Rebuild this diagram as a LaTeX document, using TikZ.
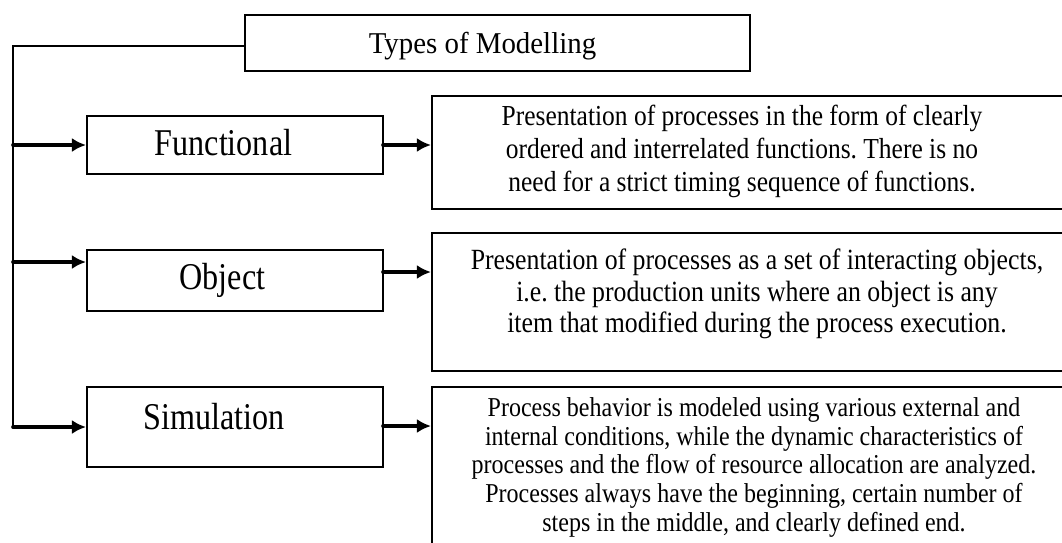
\documentclass[tikz,border=0pt]{standalone}
\usepackage{fontspec}
\setmainfont{Liberation Serif}
\newfontfamily\titlefont[FakeStretch=0.955]{Liberation Serif}
\newfontfamily\labelfont[FakeStretch=0.85]{Liberation Serif}
\newfontfamily\descfont[FakeStretch=0.88]{Liberation Serif}
\usetikzlibrary{arrows.meta}
\frenchspacing
\begin{document}
\begin{tikzpicture}
[x=0.025cm, y=-0.025cm,
 modbox/.style={draw, line width=1.4pt, inner sep=0pt},
 boxtext/.style={inner sep=0pt, anchor=base, font=\labelfont\fontsize{26.9}{30}\selectfont},
 desctext/.style={inner sep=0pt, anchor=north, align=center},
 bus/.style={line width=1.6pt},
 arr/.style={line width=2.6pt, line cap=round, -{Latex[length=3.5mm,width=3.5mm]}}]
\useasboundingbox (0,0) rectangle (1062,542);
\clip (0,0) rectangle (1062,542);

% boxes
\node (title) at (497.5,43) [modbox, minimum width=12.625cm, minimum height=1.4cm] {};
\node (func) at (235,145) [modbox, minimum width=7.4cm, minimum height=1.45cm] {};
\node (obj) at (235,280.5) [modbox, minimum width=7.4cm, minimum height=1.525cm] {};
\node (sim) at (235,427) [modbox, minimum width=7.4cm, minimum height=2cm] {};
\node (desc1) at (753.5,152.5) [modbox, minimum width=16.075cm, minimum height=2.825cm] {};
\node (desc2) at (753.5,302) [modbox, minimum width=16.075cm, minimum height=3.45cm] {};
\node (desc3) at (753.5,473.5) [modbox, minimum width=16.075cm, minimum height=4.325cm] {};

% texts
\node (titletxt) at (482.5,53) [inner sep=0pt, anchor=base, font=\titlefont\fontsize{21.5}{24}\selectfont] {Types of Modelling};
\node (functxt) at (223.5,155) [boxtext] {Functional};
\node (objtxt) at (222.5,289) [boxtext] {Object};
\node (simtxt) at (214,429) [boxtext] {Simulation};
\node (desc1txt) at (742,105.2) [desctext, font=\descfont\fontsize{20.6}{23.5}\selectfont]
  {Presentation of processes in the form of clearly\\
   ordered and interrelated functions. There is no\\
   need for a strict timing sequence of functions.};
\node (desc2txt) at (757,249) [desctext, font=\descfont\fontsize{20.85}{22.4}\selectfont]
  {Presentation of processes as a set of interacting objects,\\
   i.e. the production units where an object is any\\
   item that modified during the process execution.};
\node (desc3txt) at (754,397.4) [desctext, font=\descfont\fontsize{19.4}{20.4}\selectfont]
  {Process behavior is modeled using various external and\\
   internal conditions, while the dynamic characteristics of\\
   processes and the flow of resource allocation are analyzed.\\
   Processes always have the beginning, certain number of\\
   steps in the middle, and clearly defined end.};

% connectors
\coordinate (top) at (13,46);
\coordinate (b1) at (13,145);
\coordinate (b2) at (13,262);
\coordinate (b3) at (13,427);
\coordinate (r1) at (383,145);
\coordinate (r2) at (383,272);
\coordinate (r3) at (383,426);
\draw [bus] (title.west |- top) -- (top) -- (b3);

\foreach \from/\to in {b1/func, b2/obj, b3/sim, r1/desc1, r2/desc2, r3/desc3}
	\draw [arr] (\from) -- (\from -| \to.west);

\end{tikzpicture}
\end{document}
